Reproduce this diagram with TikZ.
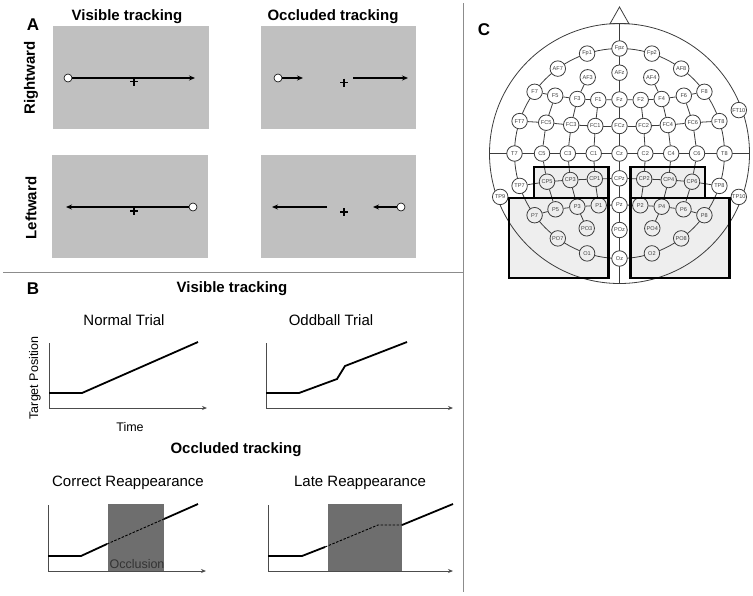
\documentclass[tikz,border=0pt]{standalone}
\usepackage{fontspec}
\setmainfont{Liberation Sans}
\usetikzlibrary{arrows.meta}
\pgfdeclarelayer{bg}
\pgfsetlayers{bg,main}
\definecolor{panelgray}{HTML}{C0C0C0}
\definecolor{occgray}{HTML}{6E6E6E}
\definecolor{boxgray}{HTML}{EEEEEE}
\definecolor{divgray}{HTML}{8C8C8C}
\definecolor{headline}{HTML}{3C3C3C}
\tikzset{
 lbl/.style={font=\fontsize{17}{20}\selectfont\bfseries},
 hdr/.style={font=\fontsize{15}{18}\selectfont\bfseries},
 ttl/.style={font=\fontsize{15}{18}\selectfont},
 axlbl/.style={font=\fontsize{12.5}{15}\selectfont},
 stim/.style={fill=panelgray, draw=none},
 mv/.style={line width=1.8pt, -{Stealth[length=6pt,width=5pt]}},
 dot/.style={circle, draw=black, fill=white, line width=0.6pt, minimum size=8pt, inner sep=0pt},
 plus/.style={line width=1.1pt},
 ax/.style={line width=1pt, draw=black!70},
 axarr/.style={ax, -{Stealth[length=5pt,width=4pt]}},
 trace/.style={line width=1.8pt},
 dtrace/.style={line width=0.9pt, dash pattern=on 2.5pt off 1.5pt},
 el/.style={circle, draw=headline, fill=white, line width=0.8pt, minimum size=15.5pt, inner sep=0pt, font=\fontsize{5.6}{6}\selectfont, text=black!75},
 elin/.style={el, fill=boxgray},
 hl/.style={draw=headline, line width=0.8pt},
 roi/.style={draw=black, line width=2.2pt},
 divider/.style={draw=divgray, line width=1pt},
}
\begin{document}
\begin{tikzpicture}[x=1pt,y=-1pt]
\useasboundingbox (0,0) rectangle (753,595);
% dividers
\coordinate (dv1) at (463,3); \coordinate (dv2) at (463,592);
\coordinate (dh1) at (3,272); \coordinate (dh2) at (463,272);
\draw[divider] (dv1) -- (dv2);
\draw[divider] (dh1) -- (dh2);

% ---------------- Panel A ----------------
\node[lbl] (labA) at (33,25) {A};
\node[hdr] (hA1) at (127,17) {Visible tracking};
\node[hdr] (hA2) at (333,17) {Occluded tracking};
\node[hdr, rotate=90] (rowR) at (31,78) {Rightward};
\node[hdr, rotate=90] (rowL) at (31,208) {Leftward};
\fill[stim] (53,26) rectangle (209,129);
\fill[stim] (261,26) rectangle (416,129);
\fill[stim] (52,155) rectangle (208,258);
\fill[stim] (261,155) rectangle (416,258);
% R1
\node[dot] (r1d) at (68,78) {};
\coordinate (r1e) at (195,78);
\draw[mv] (r1d) -- (r1e);
\draw[plus] (130,81.5) -- (138,81.5) (134,77.5) -- (134,85.5);
% R2
\node[dot] (r2d) at (278,78) {};
\coordinate (r2a) at (303,78);
\draw[mv] (r2d) -- (r2a);
\coordinate (r2b) at (353,78); \coordinate (r2c) at (408,78);
\draw[mv] (r2b) -- (r2c);
\draw[plus] (340,82.5) -- (348,82.5) (344,78.5) -- (344,86.5);
% R3
\node[dot] (r3d) at (193,207) {};
\coordinate (r3e) at (66,207);
\draw[mv] (r3d) -- (r3e);
\draw[plus] (130,211) -- (138,211) (134,207) -- (134,215);
% R4
\coordinate (r4a) at (327,207); \coordinate (r4b) at (272,207);
\draw[mv] (r4a) -- (r4b);
\node[dot] (r4d) at (401,207) {};
\coordinate (r4c) at (373,207);
\draw[mv] (r4d) -- (r4c);
\draw[plus] (340,212) -- (348,212) (344,208) -- (344,216);

% ---------------- Panel B ----------------
\node[lbl] (labB) at (33,289) {B};
\node[hdr] (hB1) at (232,289) {Visible tracking};
\node[ttl] (tN) at (124,320) {Normal Trial};
\node[ttl] (tO) at (331,320) {Oddball Trial};
\node[axlbl, rotate=90] (yl) at (35,378) {Target Position};
\node[axlbl] (xl) at (130,427) {Time};
% axes 1
\coordinate (a1t) at (49,343); \coordinate (a1o) at (49,408); \coordinate (a1r) at (207,408);
\draw[ax] (a1t) -- (a1o);
\draw[axarr] (a1o) -- (a1r);
\coordinate (n1) at (49,393); \coordinate (n2) at (82,393); \coordinate (n3) at (198,342);
\draw[trace] (n1) -- (n2) -- (n3);
% axes 2
\coordinate (a2t) at (266,343); \coordinate (a2o) at (266,408); \coordinate (a2r) at (453,408);
\draw[ax] (a2t) -- (a2o);
\draw[axarr] (a2o) -- (a2r);
\coordinate (o1) at (266,393); \coordinate (o2) at (299,393); \coordinate (o3) at (337,379);
\coordinate (o4) at (345,366); \coordinate (o5) at (407,342);
\draw[trace] (o1) -- (o2) -- (o3) -- (o4) -- (o5);

\node[hdr] (hB2) at (236,450) {Occluded tracking};
\node[ttl] (tC) at (128,483) {Correct Reappearance};
\node[ttl] (tL) at (360,483) {Late Reappearance};
% axes 3
\fill[occgray] (108,504) rectangle (164,571);
\coordinate (a3t) at (48,505); \coordinate (a3o) at (48,571); \coordinate (a3r) at (206,571);
\draw[ax] (a3t) -- (a3o);
\draw[axarr] (a3o) -- (a3r);
\coordinate (c1) at (48,556); \coordinate (c2) at (81,556); \coordinate (c3) at (107,544);
\coordinate (c4) at (164,519); \coordinate (c5) at (198,504);
\draw[trace] (c1) -- (c2) -- (c3);
\draw[dtrace] (c3) -- (c4);
\draw[trace] (c4) -- (c5);
\node[axlbl, text=black!80] (occ) at (137,564) {Occlusion};
% axes 4
\fill[occgray] (328,504) rectangle (402,571);
\coordinate (a4t) at (268,505); \coordinate (a4o) at (268,571); \coordinate (a4r) at (453,571);
\draw[ax] (a4t) -- (a4o);
\draw[axarr] (a4o) -- (a4r);
\coordinate (l1) at (268,556); \coordinate (l2) at (302,556); \coordinate (l3) at (325,547);
\coordinate (l4) at (378,525); \coordinate (l5) at (402,525); \coordinate (l6) at (453,504);
\draw[trace] (l1) -- (l2) -- (l3);
\draw[dtrace] (l3) -- (l4) -- (l5);
\draw[trace] (l5) -- (l6);

% ---------------- Panel C ----------------
\node[lbl] (labC) at (484,30) {C};
% electrodes on inner circle (r=105, centre 619.5,153.5)
\node[el] (Fpz) at (619.5,48.5) {Fpz};
\node[el] (Fp1) at (587.1,53.6) {Fp1};
\node[el] (Fp2) at (651.9,53.6) {Fp2};
\node[el] (AF7) at (557.8,68.6) {AF7};
\node[el] (AF8) at (681.2,68.6) {AF8};
\node[el] (F7) at (534.6,91.8) {F7};
\node[el] (F8) at (704.4,91.8) {F8};
\node[el] (FT7) at (519.6,121.1) {FT7};
\node[el] (FT8) at (719.4,121.1) {FT8};
\node[el] (T7) at (514.5,153.5) {T7};
\node[el] (T8) at (724.5,153.5) {T8};
\node[el] (TP7) at (519.6,185.9) {TP7};
\node[el] (TP8) at (719.4,185.9) {TP8};
\node[elin] (P7) at (534.6,215.2) {P7};
\node[elin] (P8) at (704.4,215.2) {P8};
\node[elin] (PO7) at (557.8,238.4) {PO7};
\node[elin] (PO8) at (681.2,238.4) {PO8};
\node[elin] (O1) at (587.1,253.4) {O1};
\node[elin] (O2) at (651.9,253.4) {O2};
\node[el] (Oz) at (619.5,258.5) {Oz};
% outer
\node[el] (TP9) at (500.2,196.9) {TP9};
\node[el] (TP10) at (738.8,196.9) {TP10};
\node[el] (FT10) at (738.8,110.1) {FT10};
% inner grid
\node[el] (AF3) at (587.7,77.3) {AF3};
\node[el] (AFz) at (619.5,72.7) {AFz};
\node[el] (AF4) at (651.3,77.3) {AF4};
\node[el] (F5) at (555.2,95.7) {F5};
\node[el] (F3) at (577.3,99) {F3};
\node[el] (F1) at (598.3,100) {F1};
\node[el] (Fz) at (619.5,99.5) {Fz};
\node[el] (F2) at (640.7,100) {F2};
\node[el] (F4) at (661.7,99) {F4};
\node[el] (F6) at (683.8,95.7) {F6};
\node[el] (FC5) at (546.2,122.7) {FC5};
\node[el] (FC3) at (571.2,125) {FC3};
\node[el] (FC1) at (595.3,126) {FC1};
\node[el] (FCz) at (619.5,126) {FCz};
\node[el] (FC2) at (643.7,126) {FC2};
\node[el] (FC4) at (667.8,125) {FC4};
\node[el] (FC6) at (692.8,122.7) {FC6};
\node[el] (C5) at (542,153.5) {C5};
\node[el] (C3) at (567.8,153.5) {C3};
\node[el] (C1) at (593.7,153.5) {C1};
\node[el] (Cz) at (619.5,153.5) {Cz};
\node[el] (C2) at (645.3,153.5) {C2};
\node[el] (C4) at (671.2,153.5) {C4};
\node[el] (C6) at (697,153.5) {C6};
\node[elin] (CP5) at (547,181.7) {CP5};
\node[elin] (CP3) at (570.3,180) {CP3};
\node[elin] (CP1) at (594.8,179) {CP1};
\node[el] (CPz) at (619.5,178.3) {CPz};
\node[elin] (CP2) at (644.2,179) {CP2};
\node[elin] (CP4) at (668.7,180) {CP4};
\node[elin] (CP6) at (692,181.7) {CP6};
\node[elin] (P5) at (555.5,209.3) {P5};
\node[elin] (P3) at (577.3,206.7) {P3};
\node[elin] (P1) at (598.7,205.3) {P1};
\node[el] (Pz) at (619.5,205) {Pz};
\node[elin] (P2) at (640.3,205.3) {P2};
\node[elin] (P4) at (661.7,206.7) {P4};
\node[elin] (P6) at (683.5,209.3) {P6};
\node[elin] (PO3) at (586.7,228.3) {PO3};
\node[el] (POz) at (619.5,230) {POz};
\node[elin] (PO4) at (652.3,228.3) {PO4};

\coordinate (hc) at (619.5,153.5);
\coordinate (nose) at (619.5,7);
\coordinate (nl) at (610,23.8); \coordinate (nr) at (629,23.8);
\coordinate (vt) at (619.5,23.5); \coordinate (vb) at (619.5,283.5);
\coordinate (hlft) at (489.5,153.5); \coordinate (hrgt) at (749.5,153.5);

\begin{pgfonlayer}{bg}
 \fill[boxgray] (534,167.3) rectangle (608.5,198.3);
 \fill[boxgray] (509.3,198.3) rectangle (608.5,278.3);
 \fill[boxgray] (630.5,167.3) rectangle (705,198.3);
 \fill[boxgray] (630.5,198.3) rectangle (729.5,278.3);
 \draw[hl] (hc) circle[radius=130pt];
 \draw[hl] (hc) circle[radius=105pt];
 \draw[hl] (nl) -- (nose) -- (nr) -- cycle;
 \draw[hl] (vt) -- (vb);
 \draw[hl] (hlft) -- (hrgt);
 \foreach \a/\b in {F7/F5,F5/F3,F3/F1,F1/Fz,Fz/F2,F2/F4,F4/F6,F6/F8,
   FT7/FC5,FC5/FC3,FC3/FC1,FC1/FCz,FCz/FC2,FC2/FC4,FC4/FC6,FC6/FT8,
   TP7/CP5,CP5/CP3,CP3/CP1,CP1/CPz,CPz/CP2,CP2/CP4,CP4/CP6,CP6/TP8,
   P7/P5,P5/P3,P3/P1,P1/Pz,Pz/P2,P2/P4,P4/P6,P6/P8,
   AF3/F3,AF4/F4,
   F5/FC5,F3/FC3,F1/FC1,F2/FC2,F4/FC4,F6/FC6,
   FC5/C5,FC3/C3,FC1/C1,FC2/C2,FC4/C4,FC6/C6,
   C5/CP5,C3/CP3,C1/CP1,C2/CP2,C4/CP4,C6/CP6,
   CP5/P5,CP3/P3,CP1/P1,CP2/P2,CP4/P4,CP6/P6,
   P3/PO3,P4/PO4}
   \draw[hl] (\a) -- (\b);
\end{pgfonlayer}
% regions of interest
\draw[roi] (534,198.3) -- (534,167.3) -- (608.5,167.3) -- (608.5,198.3);
\draw[roi] (509.3,198.3) rectangle (608.5,278.3);
\draw[roi] (630.5,198.3) -- (630.5,167.3) -- (705,167.3) -- (705,198.3);
\draw[roi] (630.5,198.3) rectangle (729.5,278.3);
\end{tikzpicture}
\end{document}
